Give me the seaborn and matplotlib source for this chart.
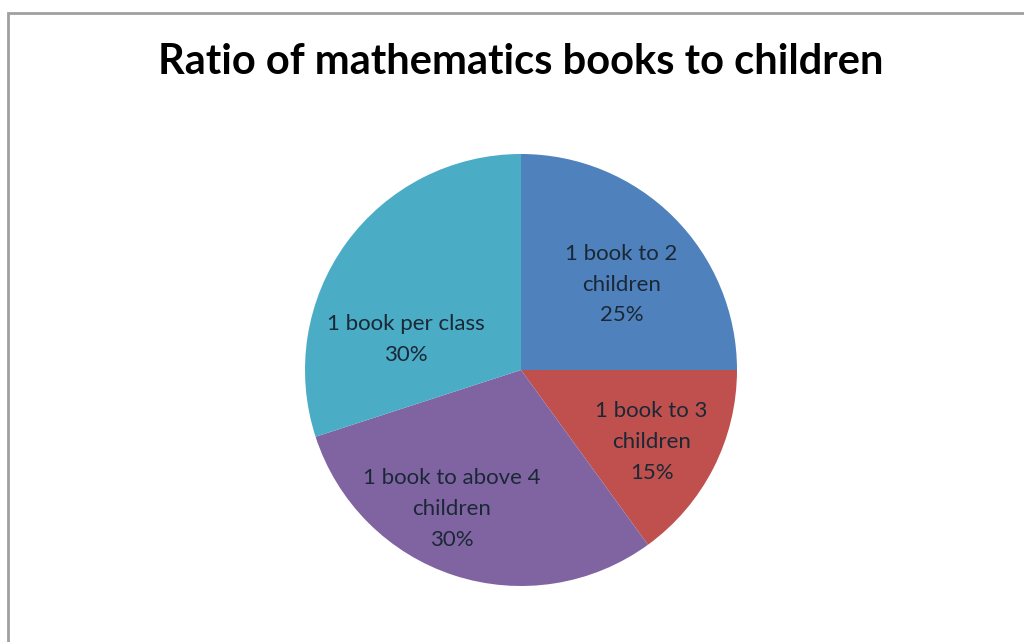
import matplotlib
matplotlib.use("Agg")
import matplotlib.pyplot as plt
import seaborn as sns
import numpy as np
from matplotlib.patches import Rectangle

categories = ["1 book to 2\nchildren", "1 book to 3\nchildren", "1 book to above 4\nchildren", "1 book per class"]
values = [25, 15, 30, 30]
colors = ["#4F81BD", "#C0504D", "#8064A2", "#4BACC6"]
title = "Ratio of mathematics books to children"

# label placement (radius fraction, angle in degrees) - layout only
label_pos = [(0.61, 40.4), (0.69, -28.8), (0.72, -116.6), (0.55, 165.0)]

sns.set_theme(style="white")
plt.rcParams['font.family'] = ['Lato', 'DejaVu Sans']

W, H = 1024, 642
fig = plt.figure(figsize=(W / 100, H / 100), dpi=100)
fig.patch.set_facecolor("white")

# frame
fig.add_artist(Rectangle((8 / W, -0.05), 1.1, (H - 13) / H + 0.05, transform=fig.transFigure,
                         fill=False, edgecolor="#A0A0A0", linewidth=2))

cx, cy, r = 521, H - 370, 216
ax = fig.add_axes([(cx - r) / W, (cy - r) / H, 2 * r / W, 2 * r / H])
wedges, _ = ax.pie(values, colors=colors, startangle=90, counterclock=False,
                   wedgeprops=dict(linewidth=0))
ax.set_xlim(-1, 1)
ax.set_ylim(-1, 1)
ax.set_aspect("equal")
ax.axis("off")

for cat, v, (rr, ang) in zip(categories, values, label_pos):
    a = np.deg2rad(ang)
    ax.text(rr * np.cos(a), rr * np.sin(a), f"{cat}\n{v}%", ha="center", va="center",
            fontsize=16, color="#1A2836", linespacing=1.68)

fig.text(521 / W, 1 - 62 / H, title, ha="center", va="center", fontsize=30,
         fontweight="bold", color="black")

fig.savefig("out.png", dpi=100)
